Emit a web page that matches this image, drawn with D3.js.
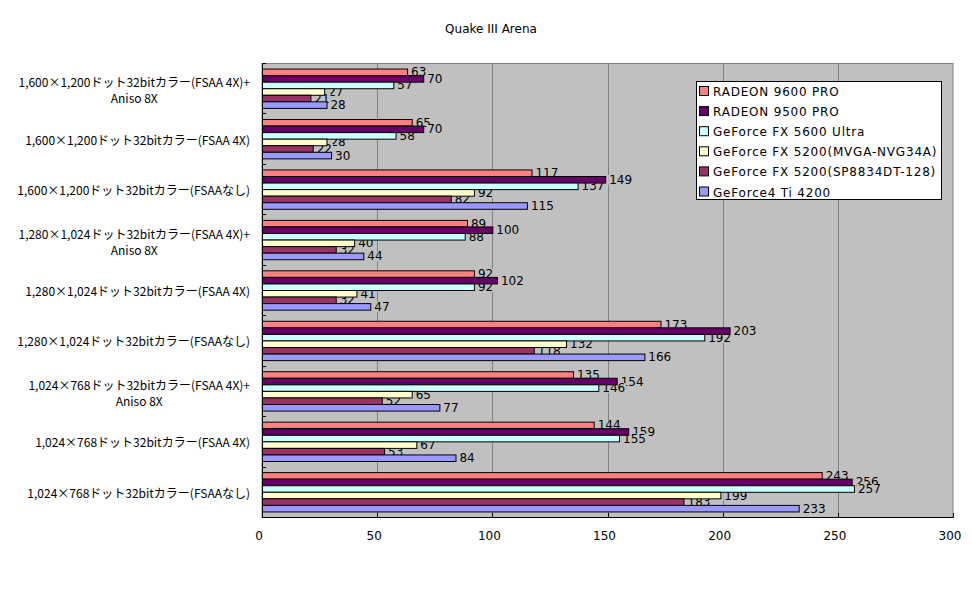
<!DOCTYPE html>
<html>
<head>
<meta charset="utf-8">
<script src="https://cdn.jsdelivr.net/npm/d3@7"></script>
<style>
  body { margin: 0; background: #fff; }
  svg text { font-family: "DejaVu Sans", "Noto Sans CJK JP", sans-serif; fill: #000; }
  svg text.jp { font-family: "Noto Sans CJK JP", "DejaVu Sans", sans-serif; }
</style>
</head>
<body>
<div id="chart"></div>
<script>
var categories = [
    ["1,600×1,200ドット32bitカラー(FSAA 4X)+", "Aniso 8X"],
    ["1,600×1,200ドット32bitカラー(FSAA 4X)"],
    ["1,600×1,200ドット32bitカラー(FSAAなし)"],
    ["1,280×1,024ドット32bitカラー(FSAA 4X)+", "Aniso 8X"],
    ["1,280×1,024ドット32bitカラー(FSAA 4X)"],
    ["1,280×1,024ドット32bitカラー(FSAAなし)"],
    ["1,024×768ドット32bitカラー(FSAA 4X)+", "Aniso 8X"],
    ["1,024×768ドット32bitカラー(FSAA 4X)"],
    ["1,024×768ドット32bitカラー(FSAAなし)"]
];
var seriesNames = [
    "RADEON 9600 PRO",
    "RADEON 9500 PRO",
    "GeForce FX 5600 Ultra",
    "GeForce FX 5200(MVGA-NVG34A)",
    "GeForce FX 5200(SP8834DT-128)",
    "GeForce4 Ti 4200"
];
var seriesColors = ["#ff8080", "#660066", "#ccffff", "#ffffcc", "#993366", "#9999ff"];

// one value per category, top to bottom
var radeon9600 = [63, 65, 117, 89, 92, 173, 135, 144, 243];
var radeon9500 = [70, 70, 149, 100, 102, 203, 154, 159, 256];
var fx5600 = [57, 58, 137, 88, 92, 192, 146, 155, 257];
var fx5200mvga = [27, 28, 92, 40, 41, 132, 65, 67, 199];
var fx5200sp = [21, 22, 82, 32, 32, 118, 52, 53, 183];
var gf4ti = [28, 30, 115, 44, 47, 166, 77, 84, 233];
var seriesValues = [radeon9600, radeon9500, fx5600, fx5200mvga, fx5200sp, gf4ti];

var xTicks = [0, 50, 100, 150, 200, 250, 300];

var width = 972, height = 604,
    plot = {left: 262, right: 953, top: 63, bottom: 517};

var svg = d3.select("#chart").append("svg")
    .attr("width", width)
    .attr("height", height);

var xScale = d3.scaleLinear().domain([0, 300]).range([plot.left, plot.right]);
var yScale = d3.scaleBand()
    .domain(d3.range(categories.length))
    .range([plot.top, plot.bottom])
    .paddingInner(0.22)
    .paddingOuter(0.11);
var ySeries = d3.scaleBand()
    .domain(d3.range(seriesNames.length))
    .range([0, yScale.bandwidth()]);
var step = yScale.step();

var rowsFor = function (d, i) {
    return seriesValues.map(function (s, k) { return {k: k, v: s[i]}; });
};

// title
svg.append("text")
    .attr("x", 491).attr("y", 33)
    .attr("text-anchor", "middle")
    .style("font-size", "12px")
    .text("Quake III Arena");

// plot background
svg.append("rect")
    .attr("x", plot.left).attr("y", plot.top + 0.5)
    .attr("width", plot.right - plot.left).attr("height", plot.bottom - plot.top)
    .attr("fill", "#c0c0c0")
    .attr("stroke", "#808080");

// gridlines
svg.append("g").selectAll("line")
    .data(xTicks.slice(1, -1))
    .enter().append("line")
    .attr("x1", function (d) { return Math.round(xScale(d)) + 0.5; })
    .attr("x2", function (d) { return Math.round(xScale(d)) + 0.5; })
    .attr("y1", plot.top).attr("y2", plot.bottom)
    .attr("stroke", "#808080");

var groups = svg.append("g").selectAll("g")
    .data(categories)
    .enter().append("g")
    .attr("transform", function (d, i) { return "translate(0," + yScale(i) + ")"; });

// value labels first, bars are painted over them like in the original
var labels = groups.selectAll("g.lbl")
    .data(rowsFor)
    .enter().append("g").attr("class", "lbl");

labels.append("text")
    .attr("x", function (d) { return xScale(d.v) + 4; })
    .attr("y", function (d) { return ySeries(d.k) + ySeries.bandwidth() / 2 + 4.5; })
    .style("font-size", "12px")
    .text(function (d) { return d.v; });

labels.each(function () {
    var g = d3.select(this), bb = g.select("text").node().getBBox();
    g.insert("rect", "text")
        .attr("x", bb.x - 1).attr("y", bb.y + 2)
        .attr("width", bb.width + 2).attr("height", bb.height - 4)
        .attr("fill", "#c0c0c0");
});

groups.selectAll("rect.bar")
    .data(rowsFor)
    .enter().append("rect")
    .attr("class", "bar")
    .attr("x", xScale(0) + 0.5)
    .attr("y", function (d) { return ySeries(d.k) + 0.5; })
    .attr("width", function (d) { return xScale(d.v) - xScale(0); })
    .attr("height", ySeries.bandwidth())
    .attr("fill", function (d) { return seriesColors[d.k]; })
    .attr("stroke", "#000")
    .attr("stroke-width", 1);

// axes
svg.append("line")
    .attr("x1", plot.left + 0.5).attr("x2", plot.left + 0.5)
    .attr("y1", plot.top).attr("y2", plot.bottom + 0.5)
    .attr("stroke", "#000");
svg.append("line")
    .attr("x1", plot.left).attr("x2", plot.right + 0.5)
    .attr("y1", plot.bottom + 0.5).attr("y2", plot.bottom + 0.5)
    .attr("stroke", "#000");

// category tick marks (inside)
svg.append("g").selectAll("line")
    .data(d3.range(categories.length + 1))
    .enter().append("line")
    .attr("x1", plot.left).attr("x2", plot.left + 4)
    .attr("y1", function (i) { return Math.round(plot.top + i * step) + 0.5; })
    .attr("y2", function (i) { return Math.round(plot.top + i * step) + 0.5; })
    .attr("stroke", "#000");

// value tick marks (inside) and labels
svg.append("g").selectAll("line")
    .data(xTicks)
    .enter().append("line")
    .attr("x1", function (d) { return Math.round(xScale(d)) + 0.5; })
    .attr("x2", function (d) { return Math.round(xScale(d)) + 0.5; })
    .attr("y1", plot.bottom - 4).attr("y2", plot.bottom)
    .attr("stroke", "#000");

svg.append("g").selectAll("text")
    .data(xTicks)
    .enter().append("text")
    .attr("x", function (d) { return xScale(d) - 3; })
    .attr("y", 540)
    .attr("text-anchor", "middle")
    .style("font-size", "12px")
    .text(function (d) { return d; });

// category labels
var catLabels = svg.append("g").selectAll("g")
    .data(categories)
    .enter().append("g");

catLabels.each(function (d, i) {
    var g = d3.select(this),
        cy = yScale(i) + yScale.bandwidth() / 2,
        first = g.append("text")
            .attr("class", "jp")
            .attr("x", 250)
            .attr("y", d.length > 1 ? cy - 1 : cy + 6)
            .attr("text-anchor", "end")
            .style("font-size", "12px")
            .text(d[0]);
    if (d.length > 1) {
        var w = first.node().getComputedTextLength();
        g.append("text")
            .attr("class", "jp")
            .attr("x", 250 - w / 2)
            .attr("y", cy + 15)
            .attr("text-anchor", "middle")
            .style("font-size", "12px")
            .text(d[1]);
    }
});

// legend
var legend = svg.append("g").attr("transform", "translate(696,81)");
legend.append("rect")
    .attr("x", 0.5).attr("y", 0.5)
    .attr("width", 245).attr("height", 118)
    .attr("fill", "#fff")
    .attr("stroke", "#000");

var items = legend.selectAll("g.item")
    .data(seriesNames)
    .enter().append("g").attr("class", "item")
    .attr("transform", function (d, i) { return "translate(0," + (10 + i * 20.1) + ")"; });

items.append("rect")
    .attr("x", 3.5).attr("y", -4.5)
    .attr("width", 9).attr("height", 9)
    .attr("fill", function (d, i) { return seriesColors[i]; })
    .attr("stroke", "#000");

items.append("text")
    .attr("x", 17).attr("y", 5)
    .style("font-size", "12px")
    .style("letter-spacing", "0.8px")
    .text(function (d) { return d; });
</script>
</body>
</html>
